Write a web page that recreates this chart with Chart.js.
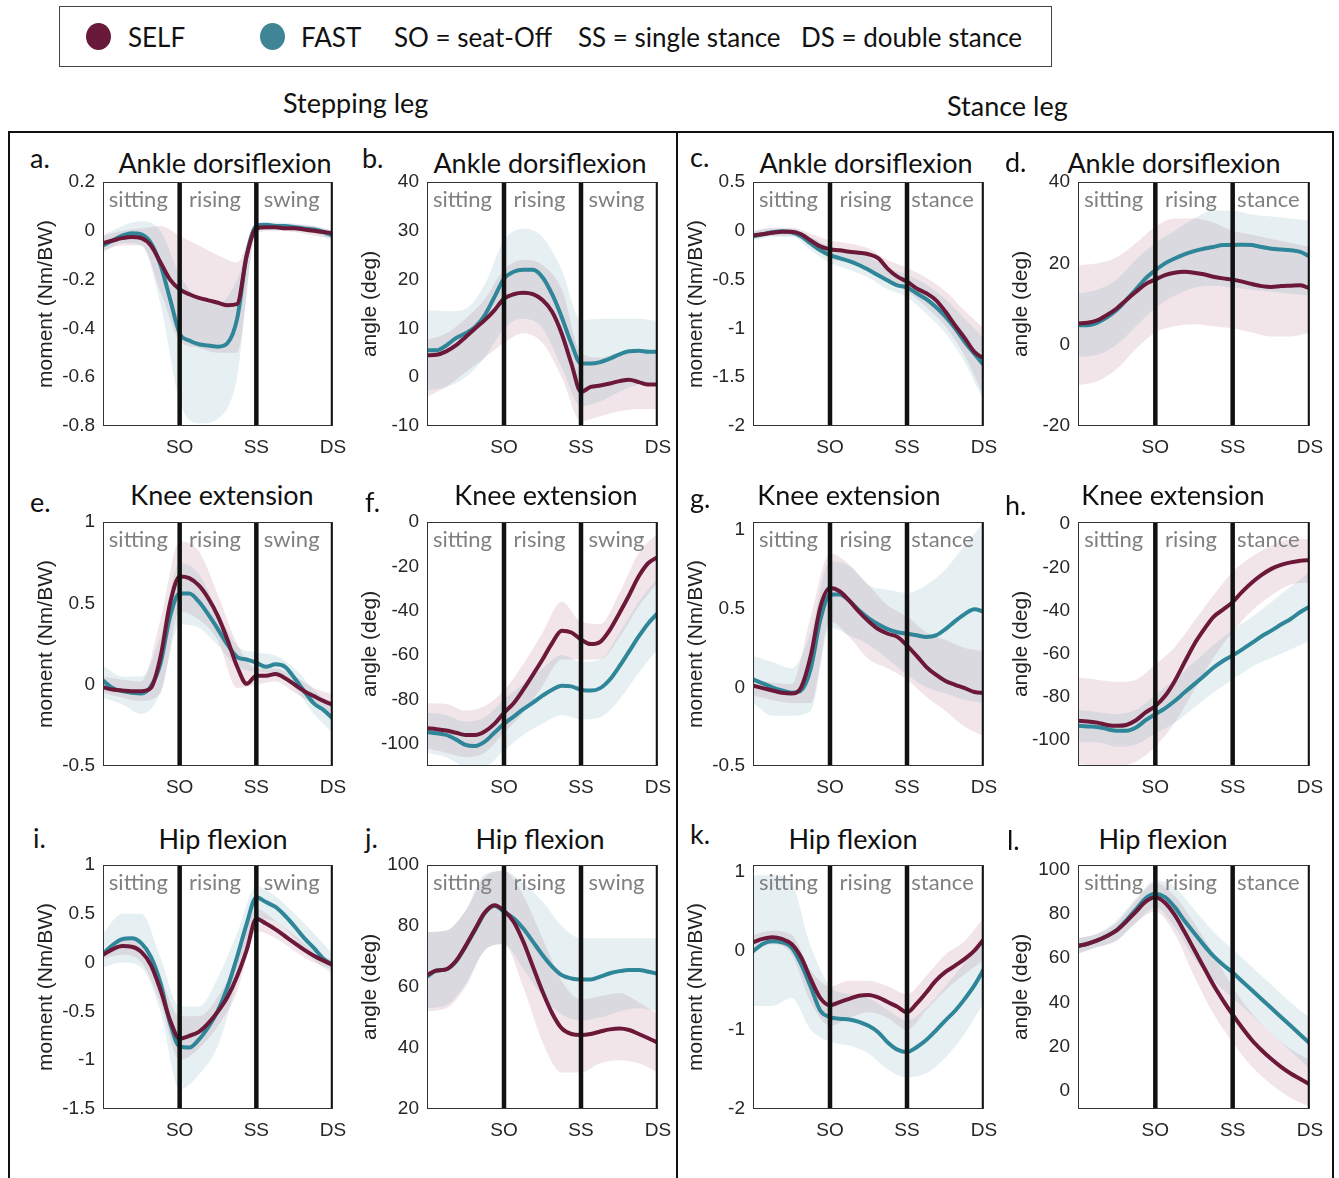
<!DOCTYPE html>
<html>
<head>
<meta charset="utf-8">
<title>SELF vs FAST joint moments and angles</title>
<script src="https://cdn.jsdelivr.net/npm/chart.js@4.4.1/dist/chart.umd.min.js"></script>
<style>
body { margin:0; background:#fff; width:1339px; height:1178px; overflow:hidden; position:relative; font-family:Lato, sans-serif; color:#111; }
.abs { position:absolute; white-space:nowrap; }
#legend { left:59px; top:6px; width:991px; height:59px; border:1px solid #444; }
.dot { position:absolute; width:25px; height:27px; border-radius:50%; top:16px; }
.lg { position:absolute; top:15px; font-size:26px; line-height:30px; white-space:nowrap; }
.big { font-size:27px; line-height:30px; }
#frame { left:8px; top:131px; width:1322px; height:1070px; border:2px solid #111; }
#divider { left:676px; top:131px; width:2px; height:1070px; background:#111; }
.ttl { transform:translateX(-50%); }
canvas { position:absolute; }
</style>
</head>
<body>
<div id="legend" class="abs">
  <div class="dot" style="left:26px;background:#691a3a"></div>
  <div class="lg" style="left:68px">SELF</div>
  <div class="dot" style="left:200px;background:#408596"></div>
  <div class="lg" style="left:241px">FAST</div>
  <div class="lg" style="left:334px">SO = seat-Off</div>
  <div class="lg" style="left:518px">SS = single stance</div>
  <div class="lg" style="left:741px">DS = double stance</div>
</div>
<div class="abs big" style="left:283px;top:88px">Stepping leg</div>
<div class="abs big" style="left:947px;top:91px">Stance leg</div>
<div id="frame" class="abs"></div>
<div id="divider" class="abs"></div>

<script>
// time axis: 0 = start, 1 = seat-off, 2 = single stance, 3 = double stance
var xFine = [0,0.125,0.25,0.375,0.5,0.625,0.75,0.875,1,1.125,1.25,1.375,1.5,1.625,1.75,1.875,2,2.125,2.25,2.375,2.5,2.625,2.75,2.875,3];
var xBand = [0,0.25,0.5,0.75,1,1.25,1.5,1.75,2,2.25,2.5,2.75,3];
var eventX = [1, 2, 3];
var eventLabels = ["SO", "SS", "DS"];
var phasesStep = ["sitting", "rising", "swing"];
var phasesStance = ["sitting", "rising", "stance"];

// a. stepping ankle moment
var aSelf = [-0.05,-0.04,-0.03,-0.025,-0.03,-0.06,-0.13,-0.2,-0.24,-0.26,-0.275,-0.285,-0.295,-0.305,-0.3,-0.1,0.01,0.015,0.015,0.01,0.01,0.005,0,-0.005,-0.01];
var aFast = [-0.06,-0.04,-0.02,-0.01,-0.015,-0.05,-0.14,-0.28,-0.42,-0.45,-0.465,-0.47,-0.475,-0.46,-0.36,-0.1,0.02,0.025,0.02,0.02,0.015,0.01,0.005,-0.005,-0.02];
var aSelfHi = [-0.02,0,0.01,0.02,-0.02,-0.06,-0.1,-0.13,0.03,0.03,0.025,0.02,0];
var aSelfLo = [-0.08,-0.06,-0.06,-0.25,-0.45,-0.48,-0.5,-0.5,-0.01,0,-0.005,-0.02,-0.03];
var aFastHi = [-0.02,0.02,0.04,0,-0.18,-0.28,-0.3,-0.2,0.035,0.035,0.03,0.02,0];
var aFastLo = [-0.09,-0.05,-0.06,-0.3,-0.7,-0.79,-0.77,-0.6,0,0.005,0,-0.01,-0.04];
var aTicks = [-0.8,-0.6,-0.4,-0.2,0,0.2];
var aYLim = [-0.8, 0.2];

// b. stepping ankle angle
var bSelf = [4.5,4.6,5.3,6.5,8.2,10,11.7,13.7,16.1,17,17.3,17,15.8,13.4,8.9,2.8,-3,-2,-1.7,-1.3,-0.8,-0.5,-1,-1.5,-1.5];
var bFast = [5.5,5.5,6.5,8,9,10.3,12.7,16.4,20.2,21.6,22,22,20.5,17,12.3,6.9,2.8,2.8,3.1,3.8,4.7,5.3,5.4,5.2,5.2];
var bSelfHi = [7.6,9,12,16,22,24,23,18,5,4,5,5,5];
var bSelfLo = [-4,-2,1,4,7,9,7,0,-9,-8,-7,-6.5,-6.5];
var bFastHi = [13.7,13.5,14,19,28,30.4,28.7,22,11.7,12,12,12,11.5];
var bFastLo = [-2.7,-2,0,4,10,12,10,2,-6,-5,-3,-1.5,-1];
var bTicks = [-10,0,10,20,30,40];
var bYLim = [-10, 40];

// c. stance ankle moment
var cSelf = [-0.046,-0.035,-0.02,-0.01,-0.01,-0.035,-0.1,-0.16,-0.19,-0.2,-0.215,-0.225,-0.24,-0.28,-0.39,-0.47,-0.52,-0.59,-0.64,-0.71,-0.83,-0.97,-1.1,-1.24,-1.31];
var cFast = [-0.055,-0.035,-0.015,-0.005,-0.015,-0.055,-0.13,-0.2,-0.25,-0.28,-0.31,-0.35,-0.4,-0.455,-0.51,-0.56,-0.58,-0.64,-0.7,-0.78,-0.88,-1,-1.14,-1.26,-1.38];
var cSelfHi = [0,0.03,0.03,-0.03,-0.1,-0.13,-0.18,-0.3,-0.38,-0.48,-0.62,-0.82,-1];
var cSelfLo = [-0.08,-0.05,-0.05,-0.16,-0.28,-0.33,-0.4,-0.52,-0.62,-0.78,-0.98,-1.28,-1.7];
var cFastHi = [-0.01,0.02,0.02,-0.06,-0.16,-0.2,-0.26,-0.38,-0.45,-0.55,-0.7,-0.9,-1.1];
var cFastLo = [-0.1,-0.06,-0.06,-0.2,-0.33,-0.4,-0.48,-0.6,-0.68,-0.85,-1.05,-1.35,-1.75];
var cTicks = [-2,-1.5,-1,-0.5,0,0.5];
var cYLim = [-2, 0.5];

// d. stance ankle angle
var dSelf = [5.2,5.4,6,7.3,8.9,11,13,14.9,16,17.1,17.7,17.9,17.7,17.3,16.7,16.3,16,15.5,14.9,14.4,14.2,14.4,14.5,14.6,13.8];
var dFast = [4.8,4.8,5.4,6.7,8.5,11,13.6,16.3,18.3,20,21.2,22.2,23,23.6,24,24.5,24.5,24.6,24.5,24,23.6,23.4,23.2,22.8,21.6];
var dSelfHi = [19.5,20,21.5,25,29,31,31,30,28,27,26,25,24];
var dSelfLo = [-10,-9,-6,-1,3,4.5,5,4.5,4,3,2,2,3];
var dFastHi = [12.6,13.5,16,21,25,28,31,33,33,32,31.5,31,30.5];
var dFastLo = [-3,-2.5,0,4.5,9,12,14,14.5,14,13.5,13,12.5,12];
var dTicks = [-20,0,20,40];
var dYLim = [-20, 40];

// e. stepping knee moment
var eSelf = [-0.016,-0.03,-0.036,-0.04,-0.04,-0.02,0.17,0.5,0.665,0.655,0.61,0.53,0.42,0.275,0.11,0.005,0.055,0.055,0.066,0.04,0,-0.04,-0.07,-0.1,-0.125];
var eFast = [0.025,-0.02,-0.04,-0.05,-0.055,-0.01,0.13,0.42,0.56,0.56,0.51,0.43,0.34,0.245,0.17,0.155,0.135,0.11,0.125,0.11,0.04,-0.04,-0.115,-0.155,-0.21];
var eSelfHi = [0.05,0.03,0.02,0.4,0.88,0.82,0.55,0.25,0.1,0.1,0.05,-0.02,-0.06];
var eSelfLo = [-0.05,-0.08,-0.1,-0.05,0.45,0.4,0.27,-0.02,0,0.02,-0.05,-0.12,-0.18];
var eFastHi = [0.12,0.05,0.05,0.3,0.75,0.68,0.45,0.24,0.2,0.18,0.1,-0.03,-0.13];
var eFastLo = [-0.08,-0.12,-0.18,-0.05,0.37,0.35,0.24,0.11,0.08,0.07,-0.02,-0.18,-0.3];
var eTicks = [-0.5,0,0.5,1];
var eYLim = [-0.5, 1];

// f. stepping knee angle
var fSelf = [-93,-93.4,-94,-95,-96,-96,-94.4,-91,-86,-81.7,-75.6,-68.9,-62,-54.6,-49,-49.8,-53,-55,-54,-48.6,-41,-33,-24.5,-18.5,-15.8];
var fFast = [-94.7,-95.2,-96,-98,-100.5,-101,-99,-95,-91,-87.7,-84.4,-81.4,-78.3,-75.6,-73.8,-74.1,-75.6,-76,-74.9,-71,-65,-58.3,-51.6,-45.6,-41];
var fSelfHi = [-81.7,-82,-85,-83,-76,-64,-50,-36,-45,-46,-32,-14,-5];
var fSelfLo = [-102,-104,-106,-104,-95,-86,-74,-62,-62,-62,-52,-38,-27];
var fFastHi = [-86,-87,-90,-88,-80,-73,-66,-60,-63,-62,-50,-36,-25];
var fFastLo = [-104,-106,-110,-110,-103,-96,-91,-87,-89,-88,-80,-68,-57];
var fTicks = [-100,-80,-60,-40,-20,0];
var fYLim = [-110, 0];

// g. stance knee moment
var gSelf = [0.01,-0.005,-0.02,-0.035,-0.04,0,0.2,0.51,0.63,0.61,0.55,0.48,0.42,0.37,0.34,0.32,0.265,0.2,0.13,0.08,0.04,0.016,-0.005,-0.03,-0.035];
var gFast = [0.05,0.025,0,-0.02,-0.035,-0.02,0.12,0.43,0.59,0.59,0.55,0.49,0.44,0.4,0.37,0.35,0.34,0.33,0.32,0.33,0.37,0.42,0.465,0.495,0.48];
var gSelfHi = [0.05,0.03,0.02,0.45,0.85,0.78,0.65,0.52,0.45,0.35,0.3,0.25,0.23];
var gSelfLo = [-0.05,-0.08,-0.1,-0.1,0.42,0.32,0.18,0.12,0.05,-0.06,-0.15,-0.25,-0.31];
var gFastHi = [0.2,0.16,0.12,0.35,0.8,0.77,0.65,0.62,0.6,0.65,0.75,0.9,1.05];
var gFastLo = [-0.1,-0.18,-0.18,-0.15,0.38,0.33,0.27,0.18,0.08,0,-0.04,-0.08,-0.1];
var gTicks = [-0.5,0,0.5,1];
var gYLim = [-0.5, 1.05];

// h. stance knee angle
var hSelf = [-91,-91.4,-91.9,-93,-93.4,-93,-90.8,-87.2,-84.2,-79.6,-72.7,-64.2,-55.8,-49,-43,-39.6,-36.1,-31.2,-27,-23.5,-20.7,-18.9,-17.7,-16.9,-16.7];
var hFast = [-93.4,-93.7,-93.9,-94.9,-95.7,-95.7,-94.2,-90.8,-88,-85.3,-81.9,-78,-74.2,-70.4,-66.5,-63.4,-60.8,-58,-55,-51.9,-49.3,-46.5,-43.9,-40.7,-38.1];
var hSelfHi = [-71,-72,-73,-72,-65,-57,-45,-33,-22,-15,-10,-7,-7];
var hSelfLo = [-111,-112,-112,-110,-103,-92,-77,-62,-50,-40,-33,-28,-27];
var hFastHi = [-86,-87,-88,-86,-79,-72,-64,-56,-49,-43,-36,-29,-22];
var hFastLo = [-101,-101,-103,-102,-97,-92,-85,-78,-72,-66,-62,-58,-54];
var hTicks = [-100,-80,-60,-40,-20,0];
var hYLim = [-112, 1];

// i. stepping hip moment
var iSelf = [0.08,0.136,0.17,0.163,0.11,-0.025,-0.28,-0.59,-0.78,-0.75,-0.71,-0.62,-0.5,-0.35,-0.14,0.13,0.45,0.4,0.34,0.27,0.2,0.13,0.07,0.02,-0.025];
var iFast = [0.09,0.18,0.24,0.25,0.2,0.06,-0.21,-0.62,-0.86,-0.87,-0.79,-0.66,-0.49,-0.25,0.06,0.4,0.67,0.62,0.57,0.48,0.37,0.25,0.15,0.04,-0.025];
var iSelfHi = [0.12,0.26,0.22,-0.15,-0.55,-0.55,-0.35,0.02,0.55,0.43,0.28,0.12,0.02];
var iSelfLo = [0.04,0.08,0,-0.42,-1,-0.88,-0.65,-0.3,0.32,0.25,0.12,0,-0.07];
var iFastHi = [0.3,0.5,0.5,0.05,-0.45,-0.45,-0.15,0.3,0.78,0.68,0.5,0.3,0.08];
var iFastLo = [-0.05,0,-0.05,-0.5,-1.3,-1.15,-0.85,-0.2,0.45,0.42,0.25,0.03,-0.12];
var iTicks = [-1.5,-1,-0.5,0,0.5,1];
var iYLim = [-1.5, 1];

// j. stepping hip angle
var jSelf = [64,65.4,65.8,68.5,73.4,79,84.4,86.8,85,81.4,74.9,66.7,58.5,51.4,46.4,44.6,44.3,44.6,45.4,46.1,46.4,45.9,44.6,43.2,41.7];
var jFast = [63.4,65.4,65.8,68.3,73.2,78.7,84.2,86.6,84.7,82.5,79.2,74.9,70.5,66.7,63.9,62.8,62.5,62.5,63.4,64.5,65.2,65.6,65.6,65,64.3];
var jSelfHi = [78,78.5,85,96,98,90,76,62,56,57,58,55,51];
var jSelfLo = [52,53,60,72,74,60,42,32,32,35,36,35,32];
var jFastHi = [78,78.5,85,97,98,94,88,80,76,76,76,76,76];
var jFastLo = [53,54,61,72,74,66,57,51,49,50,52,53,52];
var jTicks = [20,40,60,80,100];
var jYLim = [20, 100];

// k. stance hip moment
var kSelf = [0.105,0.147,0.168,0.147,0.084,-0.084,-0.36,-0.6,-0.69,-0.65,-0.61,-0.57,-0.56,-0.59,-0.65,-0.71,-0.78,-0.67,-0.53,-0.38,-0.27,-0.19,-0.105,0,0.147];
var kFast = [-0.01,0.084,0.118,0.105,0.04,-0.17,-0.46,-0.76,-0.84,-0.86,-0.87,-0.9,-0.95,-1.03,-1.16,-1.25,-1.28,-1.22,-1.13,-1.01,-0.88,-0.76,-0.61,-0.44,-0.23];
var kSelfHi = [0.2,0.25,0.2,-0.25,-0.45,-0.38,-0.38,-0.45,-0.55,-0.32,-0.05,0.12,0.42];
var kSelfLo = [0,0.08,-0.05,-0.65,-0.95,-0.85,-0.78,-0.85,-1,-0.75,-0.5,-0.3,-0.12];
var kFastHi = [0.95,0.95,0.85,0.05,-0.45,-0.55,-0.6,-0.75,-0.88,-0.72,-0.45,-0.15,0.15];
var kFastLo = [-0.7,-0.7,-0.6,-1,-1.15,-1.2,-1.3,-1.5,-1.6,-1.55,-1.35,-1.05,-0.65];
var kTicks = [-2,-1,0,1];
var kYLim = [-2, 1.08];

// l. stance hip angle
var lSelf = [65.5,66.5,68,70,72.5,76.5,81,85.5,87.5,85,79.5,72,64,56,48,41,34.5,28.5,23,18.5,14.5,11,8,5.5,3];
var lFast = [65.5,66.5,68,70,72.7,77,82,87,89,87.5,83,77,71.5,66,61,57,53.5,49.5,45.5,41.5,37.5,33.5,29.5,25.5,21.5];
var lSelfHi = [69,71,76,86,94,88,76,62,47,35,26,19,14];
var lSelfLo = [62,65,68,76,81,71,52,35,22,11,3,-3,-7];
var lFastHi = [69,71,77,87,95,92,82,72,64,56,48,40,33];
var lFastLo = [62,65,68,76,83,74,60,50,42,34,26,18,10];
var lTicks = [0,20,40,60,80,100];
var lYLim = [-8, 102];

var SELF_LINE = "#6c1838";
var FAST_LINE = "#2f8698";
var SELF_BAND = "rgba(150,40,80,0.12)";
var FAST_BAND = "rgba(60,140,160,0.13)";
var MOM = "moment (Nm/BW)";
var ANG = "angle (deg)";

var panels = [
  {id:"a", title:"Ankle dorsiflexion", yTitle:MOM, phases:phasesStep, self:aSelf, fast:aFast, selfHi:aSelfHi, selfLo:aSelfLo, fastHi:aFastHi, fastLo:aFastLo, ticks:aTicks, ylim:aYLim},
  {id:"b", title:"Ankle dorsiflexion", yTitle:ANG, phases:phasesStep, self:bSelf, fast:bFast, selfHi:bSelfHi, selfLo:bSelfLo, fastHi:bFastHi, fastLo:bFastLo, ticks:bTicks, ylim:bYLim},
  {id:"c", title:"Ankle dorsiflexion", yTitle:MOM, phases:phasesStance, self:cSelf, fast:cFast, selfHi:cSelfHi, selfLo:cSelfLo, fastHi:cFastHi, fastLo:cFastLo, ticks:cTicks, ylim:cYLim},
  {id:"d", title:"Ankle dorsiflexion", yTitle:ANG, phases:phasesStance, self:dSelf, fast:dFast, selfHi:dSelfHi, selfLo:dSelfLo, fastHi:dFastHi, fastLo:dFastLo, ticks:dTicks, ylim:dYLim},
  {id:"e", title:"Knee extension", yTitle:MOM, phases:phasesStep, self:eSelf, fast:eFast, selfHi:eSelfHi, selfLo:eSelfLo, fastHi:eFastHi, fastLo:eFastLo, ticks:eTicks, ylim:eYLim},
  {id:"f", title:"Knee extension", yTitle:ANG, phases:phasesStep, self:fSelf, fast:fFast, selfHi:fSelfHi, selfLo:fSelfLo, fastHi:fFastHi, fastLo:fFastLo, ticks:fTicks, ylim:fYLim},
  {id:"g", title:"Knee extension", yTitle:MOM, phases:phasesStance, self:gSelf, fast:gFast, selfHi:gSelfHi, selfLo:gSelfLo, fastHi:gFastHi, fastLo:gFastLo, ticks:gTicks, ylim:gYLim},
  {id:"h", title:"Knee extension", yTitle:ANG, phases:phasesStance, self:hSelf, fast:hFast, selfHi:hSelfHi, selfLo:hSelfLo, fastHi:hFastHi, fastLo:hFastLo, ticks:hTicks, ylim:hYLim},
  {id:"i", title:"Hip flexion", yTitle:MOM, phases:phasesStep, self:iSelf, fast:iFast, selfHi:iSelfHi, selfLo:iSelfLo, fastHi:iFastHi, fastLo:iFastLo, ticks:iTicks, ylim:iYLim},
  {id:"j", title:"Hip flexion", yTitle:ANG, phases:phasesStep, self:jSelf, fast:jFast, selfHi:jSelfHi, selfLo:jSelfLo, fastHi:jFastHi, fastLo:jFastLo, ticks:jTicks, ylim:jYLim},
  {id:"k", title:"Hip flexion", yTitle:MOM, phases:phasesStance, self:kSelf, fast:kFast, selfHi:kSelfHi, selfLo:kSelfLo, fastHi:kFastHi, fastLo:kFastLo, ticks:kTicks, ylim:kYLim},
  {id:"l", title:"Hip flexion", yTitle:ANG, phases:phasesStance, self:lSelf, fast:lFast, selfHi:lSelfHi, selfLo:lSelfLo, fastHi:lFastHi, fastLo:lFastLo, ticks:lTicks, ylim:lYLim}
];

// page placement of each plot box, panel title and letter
var colLeft = [103, 427, 753, 1078];
var colWidth = [230, 231, 231, 232];
var rowTop = [182, 522, 865];
var plotH = 244;
var titleX = [225, 540, 866, 1174, 222, 546, 849, 1173, 223, 540, 853, 1163];
var titleY = [148, 480, 824];
var letterX = [30, 362, 690, 1005, 30, 365, 690, 1005, 33, 365, 690, 1007];
var letterY = [143, 143, 142, 147, 487, 487, 483, 490, 823, 823, 819, 825];
// padding has to cover the tick-label overhang Chart.js reserves
var AXW = 73, PADT = 22, PADR = 26, AXH = 40;

var panelDecor = {
  id: "panelDecor",
  afterDatasetsDraw: function(chart, args, opts) {
    var ctx = chart.ctx, a = chart.chartArea, xs = chart.scales.x;
    ctx.save();
    ctx.strokeStyle = "#333";
    ctx.lineWidth = 1;
    ctx.strokeRect(a.left + 0.5, a.top + 0.5, a.right - a.left - 1, a.bottom - a.top - 1);
    ctx.font = "22px Lato";
    ctx.fillStyle = "#808080";
    ctx.textAlign = "center";
    ctx.textBaseline = "middle";
    var bounds = [0].concat(eventX);
    opts.phases.forEach(function(name, i) {
      var cx = (xs.getPixelForValue(bounds[i]) + xs.getPixelForValue(bounds[i + 1])) / 2;
      ctx.fillText(name, cx - 3, a.top + 18);
    });
    ctx.restore();
  }
};

function pts(xs, ys) {
  return xs.map(function(x, i) { return {x: x, y: ys[i]}; });
}

function addText(cls, txt, left, top) {
  var d = document.createElement("div");
  d.className = "abs big " + cls;
  d.textContent = txt;
  d.style.left = left + "px";
  d.style.top = top + "px";
  document.body.appendChild(d);
}

panels.forEach(function(p, n) {
  var row = Math.floor(n / 4), col = n % 4;
  var L = colLeft[col], T = rowTop[row], W = colWidth[col];

  addText("ttl", p.title, titleX[n], titleY[row]);
  addText("", p.id + ".", letterX[n], letterY[n]);

  var cv = document.createElement("canvas");
  cv.width = W + AXW + PADR;
  cv.height = plotH + PADT + AXH;
  cv.style.left = (L - AXW) + "px";
  cv.style.top = (T - PADT) + "px";
  document.body.appendChild(cv);

  var base = {pointRadius: 0, cubicInterpolationMode: "monotone"};
  var ds = [];
  ds.push(Object.assign({data: pts(xFine, p.self), borderColor: SELF_LINE, borderWidth: 4, fill: false, order: 1}, base));
  ds.push(Object.assign({data: pts(xFine, p.fast), borderColor: FAST_LINE, borderWidth: 4, fill: false, order: 1}, base));
  eventX.forEach(function(e) {
    ds.push({data: [{x: e, y: p.ylim[0]}, {x: e, y: p.ylim[1]}], borderColor: "#111", borderWidth: 4.5, pointRadius: 0, fill: false, order: 0});
  });
  ds.push(Object.assign({data: pts(xBand, p.selfHi), borderWidth: 0, borderColor: "rgba(0,0,0,0)", backgroundColor: SELF_BAND, fill: "+1", order: 3}, base));
  ds.push(Object.assign({data: pts(xBand, p.selfLo), borderWidth: 0, borderColor: "rgba(0,0,0,0)", fill: false, order: 3}, base));
  ds.push(Object.assign({data: pts(xBand, p.fastHi), borderWidth: 0, borderColor: "rgba(0,0,0,0)", backgroundColor: FAST_BAND, fill: "+1", order: 2}, base));
  ds.push(Object.assign({data: pts(xBand, p.fastLo), borderWidth: 0, borderColor: "rgba(0,0,0,0)", fill: false, order: 2}, base));

  new Chart(cv, {
    type: "line",
    data: {datasets: ds},
    plugins: [panelDecor],
    options: {
      responsive: false,
      animation: false,
      devicePixelRatio: 1,
      layout: {padding: {top: PADT, right: PADR, left: 0, bottom: 0}},
      plugins: {legend: {display: false}, tooltip: {enabled: false}, panelDecor: {phases: p.phases}},
      scales: {
        x: {
          type: "linear", min: 0, max: 3,
          afterBuildTicks: function(s) { s.ticks = eventX.map(function(v) { return {value: v}; }); },
          afterFit: function(s) { s.height = AXH; },
          ticks: {autoSkip: false, maxRotation: 0, padding: 10, color: "#262626", font: {family: "Liberation Sans", size: 19},
                  callback: function(v, i) { return eventLabels[i]; }},
          grid: {display: false, drawTicks: false},
          border: {display: false}
        },
        y: {
          min: p.ylim[0], max: p.ylim[1],
          afterBuildTicks: function(s) { s.ticks = p.ticks.map(function(v) { return {value: v}; }); },
          afterFit: function(s) { s.width = AXW; },
          ticks: {padding: 8, color: "#262626", font: {family: "Liberation Sans", size: 19},
                  callback: function(v) { return String(v); }},
          grid: {display: false, drawTicks: false},
          border: {display: false},
          title: {display: true, text: p.yTitle, color: "#222", font: {family: "Liberation Sans", size: 21}, padding: {top: 4, bottom: 4}}
        }
      }
    }
  });
});
</script>
</body>
</html>
